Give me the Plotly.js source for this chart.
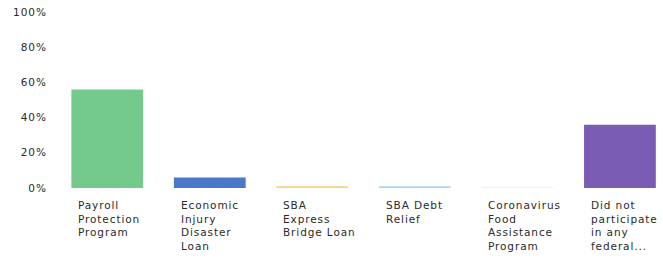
<!DOCTYPE html>
<html>
<head>
<meta charset="utf-8">
<script src="https://cdn.plot.ly/plotly-3.0.1.min.js"></script>
<style>
html,body{margin:0;padding:0;background:#fff;}
#chart{width:663px;height:262px;}
.ytick text{letter-spacing:1px;}
.annotation-text{letter-spacing:0.9px;}
</style>
</head>
<body>
<div id="chart"></div>
<script>
const categories = ["Payroll Protection Program","Economic Injury Disaster Loan","SBA Express Bridge Loan","SBA Debt Relief","Coronavirus Food Assistance Program","Did not participate in any federal..."];
const labelLines = ["Payroll<br>Protection<br>Program","Economic<br>Injury<br>Disaster<br>Loan","SBA<br>Express<br>Bridge Loan","SBA Debt<br>Relief","Coronavirus<br>Food<br>Assistance<br>Program","Did not<br>participate<br>in any<br>federal..."];
const values = [56, 6, 1, 1, 0.5, 36];
const colors = ["#74c98d","#4a79c9","#f3d678","#a9d9e6","#f0f0f0","#7b5cb4"];
const yTicks = [0,20,40,60,80,100];
const yTickText = ["0%","20%","40%","60%","80%","100%"];

const trace = {type:"bar", x:categories, y:values, marker:{color:colors}, hoverinfo:"none"};
const annotations = categories.map((c,i)=>({
  x:c, xref:"x", y:-0.05, yref:"paper", yanchor:"top", xanchor:"left", xshift:-31,
  text:labelLines[i], showarrow:false, align:"left",
  font:{family:"DejaVu Sans", size:10.5, color:"#2a2a2a"}
}));
const layout = {
  width:663, height:262,
  margin:{l:56, r:0, t:12, b:74},
  paper_bgcolor:"#fff", plot_bgcolor:"#fff",
  bargap:0.30,
  showlegend:false,
  xaxis:{type:"category", range:[-0.5,5.42], showticklabels:false, showgrid:false, zeroline:false, showline:false, ticks:""},
  yaxis:{range:[0,100], tickvals:yTicks, ticktext:yTickText, showgrid:false, zeroline:false, showline:false, ticks:"", ticklabelstandoff:8,
         tickfont:{family:"DejaVu Sans", size:10.5, color:"#2a2a2a"}},
  annotations:annotations
};
Plotly.newPlot("chart",[trace],layout,{displayModeBar:false, staticPlot:true});
</script>
</body>
</html>
